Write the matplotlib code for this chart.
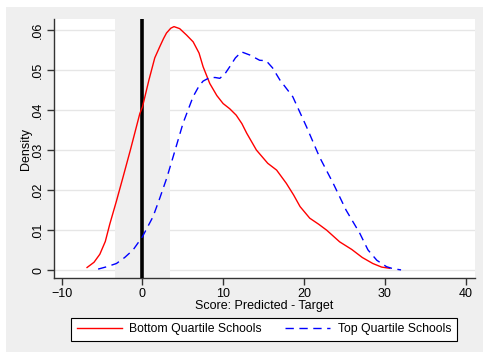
import matplotlib.pyplot as plt
from matplotlib.patches import Rectangle

plt.rcParams['font.family'] = ['Liberation Sans', 'DejaVu Sans']

# Bottom quartile schools (red, solid)
bottom_x = [-6.86, -6.0, -5.28, -4.6, -4.05, -3.22, -2.4, -1.5, -0.33, 0.0, 0.8, 1.52,
            2.14, 2.6, 2.97, 3.5, 3.9, 4.6, 5.45, 6.27, 7.0, 7.5, 8.33, 9.2, 9.98, 10.8,
            11.6, 12.3, 12.9, 14.1, 15.5, 16.6, 17.8, 18.7, 19.5, 20.7, 21.8, 22.8,
            24.4, 25.9, 27.2, 28.5, 29.6, 30.6]
bottom_y = [0.0007, 0.0020, 0.0040, 0.0072, 0.0115, 0.0173, 0.0233, 0.0300, 0.0391, 0.0408,
            0.0475, 0.0530, 0.0558, 0.0578, 0.0592, 0.0604, 0.0608, 0.0603, 0.0587, 0.0570,
            0.0542, 0.0508, 0.0466, 0.0436, 0.0416, 0.0403, 0.0387, 0.0366, 0.0342, 0.0300,
            0.0267, 0.0250, 0.0217, 0.0188, 0.0159, 0.0130, 0.0115, 0.0100, 0.0071, 0.0052,
            0.0032, 0.0017, 0.0008, 0.0005]

# Top quartile schools (blue, dashed)
top_x = [-5.49, -4.4, -3.22, -2.2, -1.16, 0.0, 1.31, 2.14, 3.0, 3.79, 5.02, 6.26, 7.0,
         7.5, 8.33, 9.0, 9.57, 10.2, 10.8, 11.5, 12.25, 13.3, 14.5, 15.3, 16.1, 17.0,
         18.6, 20.3, 21.9, 23.6, 25.2, 26.9, 27.9, 29.0, 30.2, 31.0, 32.0]
top_y = [0.0003, 0.0009, 0.0017, 0.0032, 0.0051, 0.0084, 0.0134, 0.0180, 0.0230, 0.0283,
         0.0367, 0.0433, 0.0460, 0.0472, 0.0481, 0.0481, 0.0479, 0.0490, 0.0508, 0.0530,
         0.0545, 0.0537, 0.0524, 0.0523, 0.0505, 0.0475, 0.0433, 0.0358, 0.0283, 0.0217,
         0.0150, 0.0092, 0.0051, 0.0025, 0.0009, 0.0004, 0.0001]

band = (-3.45, 3.45)
yticks = [0, 0.01, 0.02, 0.03, 0.04, 0.05, 0.06]
ytick_labels = ['0', '.01', '.02', '.03', '.04', '.05', '.06']
xticks = [-10, 0, 10, 20, 30, 40]

W, H = 483, 352
fig = plt.figure(figsize=(W / 100, H / 100), dpi=100, facecolor='white')
fig.patches.append(Rectangle((6 / W, 0), 1 - 6 / W, 1 - 7 / H, transform=fig.transFigure,
                             facecolor='#efefef', edgecolor='none', zorder=-10))

ax = fig.add_axes([54 / W, 1 - 278 / H, (475 - 54) / W, (278 - 19) / H])
ax.set_facecolor('white')

ax.axvspan(band[0], band[1], color='#efefef', lw=0, zorder=1)
for yv in yticks:
    ax.axhline(yv, color='#e6e6e6', lw=1, zorder=0.5)
ax.axvline(0, color='black', lw=2.6, zorder=3)

l1, = ax.plot(bottom_x, bottom_y, color='#ff0000', lw=1, zorder=4, solid_joinstyle='round')
l2, = ax.plot(top_x, top_y, color='#0000ff', lw=1, ls=(0, (6, 4)), zorder=4)

ax.set_xlim(-10.95, 41.15)
ax.set_ylim(-0.00192, 0.0627)
ax.set_xticks(xticks)
ax.set_yticks(yticks)
ax.set_yticklabels(ytick_labels, rotation=90, va='center')
ax.tick_params(labelsize=9, length=5, width=1, color='#333333', pad=2)

for s in ['top', 'right']:
    ax.spines[s].set_visible(False)
for s in ['left', 'bottom']:
    ax.spines[s].set_color('#333333')
    ax.spines[s].set_linewidth(1)

ax.set_xlabel('Score: Predicted - Target', fontsize=9, labelpad=0)
ax.set_ylabel('Density', fontsize=9, labelpad=0)

leg = fig.legend([l1, l2], ['Bottom Quartile Schools', 'Top Quartile Schools'],
                 loc='center', bbox_to_anchor=((71 + 457) / 2 / W, 1 - 329 / H),
                 ncol=2, fontsize=8.8, frameon=True, fancybox=False, handlelength=3.7,
                 columnspacing=1.9, borderpad=0.45, handletextpad=0.6, borderaxespad=0)
leg.get_frame().set_edgecolor('black')
leg.get_frame().set_linewidth(0.8)
leg.get_frame().set_alpha(1)

fig.savefig('out.png', dpi=100, facecolor=fig.get_facecolor())
